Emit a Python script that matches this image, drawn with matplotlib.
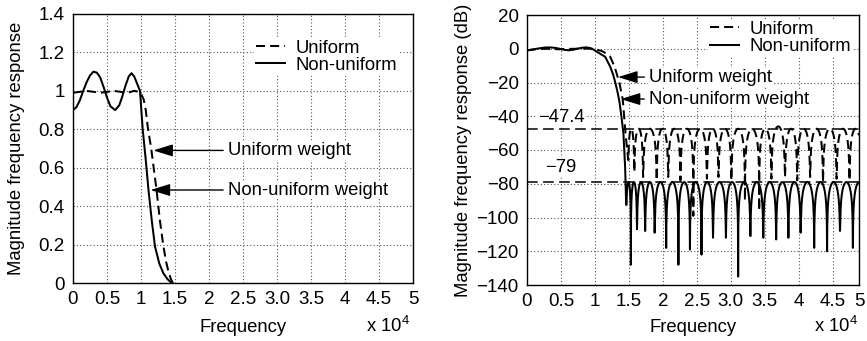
import numpy as np
import matplotlib
matplotlib.use("Agg")
import matplotlib.pyplot as plt

plt.rcParams["font.family"] = ["Liberation Sans", "DejaVu Sans"]
plt.rcParams["mathtext.fontset"] = "custom"
plt.rcParams["mathtext.rm"] = "Liberation Sans"
plt.rcParams["mathtext.it"] = "Liberation Sans:italic"
plt.rcParams["axes.unicode_minus"] = True

# ---------------- data ----------------
freq_ticks = [0, 0.5, 1, 1.5, 2, 2.5, 3.0, 3.5, 4, 4.5, 5]
freq_tick_labels = ["0", "0.5", "1", "1.5", "2", "2.5", "3.0", "3.5", "4", "4.5", "5"]

mag_ticks = [0, 0.2, 0.4, 0.6, 0.8, 1.0, 1.2, 1.4]
mag_tick_labels = ["0", "0.2", "0.4", "0.6", "0.8", "1", "1.2", "1.4"]

db_ticks = [20, 0, -20, -40, -60, -80, -100, -120, -140]

# linear magnitude, uniform weight
lin_uni_f = [0, 0.1, 0.2, 0.3, 0.4, 0.5, 0.6, 0.7, 0.8, 0.9, 0.97, 1.0, 1.04,
             1.07, 1.10, 1.15, 1.19, 1.23, 1.28, 1.33, 1.37, 1.41, 1.44, 1.47]
lin_uni_m = [0.99, 0.995, 1.0, 0.995, 0.99, 0.995, 1.0, 0.995, 0.99, 1.0, 0.995,
             0.985, 0.955, 0.90, 0.81, 0.70, 0.59, 0.48, 0.32, 0.19, 0.11, 0.05,
             0.02, 0.0]

# linear magnitude, non-uniform weight
lin_non_f = [0, 0.05, 0.1, 0.15, 0.2, 0.25, 0.3, 0.35, 0.4, 0.45, 0.5, 0.55,
             0.62, 0.68, 0.72, 0.77, 0.82, 0.86, 0.90, 0.94, 0.985, 1.025, 1.07,
             1.11, 1.16, 1.206, 1.27, 1.33, 1.39, 1.45]
lin_non_m = [0.90, 0.915, 0.95, 1.0, 1.045, 1.08, 1.10, 1.095, 1.07, 1.02, 0.965,
             0.92, 0.90, 0.925, 0.965, 1.025, 1.075, 1.092, 1.075, 1.04, 1.0,
             0.80, 0.64, 0.484, 0.32, 0.19, 0.10, 0.05, 0.02, 0.0]

# dB response: passband and transition band
db_uni_f = [0, 0.1, 0.2, 0.3, 0.45, 0.6, 0.75, 0.9, 1.0, 1.05, 1.1, 1.16, 1.225,
            1.29, 1.33, 1.36, 1.39, 1.41, 1.43, 1.455, 1.49]
db_uni_v = [-1.0, -0.4, -0.1, 0.0, -0.3, -0.1, 0.0, 0.1, -0.2, -0.8, -1.3, -2.6,
            -4.7, -10.6, -16.0, -20.0, -26.0, -30.0, -40.0, -52.0, -66.0]

db_non_f = [0, 0.08, 0.17, 0.26, 0.34, 0.42, 0.5, 0.56, 0.62, 0.68, 0.75, 0.81,
            0.87, 0.92, 0.96, 1.02, 1.08, 1.15, 1.225, 1.27, 1.30, 1.33, 1.36,
            1.39, 1.42, 1.445, 1.46]
db_non_v = [-0.9, -0.5, 0.2, 0.7, 0.8, 0.5, -0.2, -0.7, -0.9, -0.6, 0.1, 0.6,
            0.8, 0.5, 0.0, -1.6, -3.0, -4.7, -10.6, -15.5, -20.0, -25.0, -31.0,
            -40.0, -50.0, -70.0, -92.6]

# stopband: null frequencies, null depths and lobe peak levels
uni_null_f = [1.49, 1.58, 1.71, 1.91, 2.08, 2.26, 2.45, 2.65, 2.82, 3.01, 3.21,
              3.42, 3.60, 3.80, 3.98, 4.17, 4.36, 4.56, 4.75, 4.93]
uni_null_db = [-66, -73, -76, -78, -76, -78, -99, -77, -76, -78, -90, -96, -77,
               -76, -78, -76, -79, -77, -78, -75]
uni_peak_db = [-47.4, -47.4, -47.4, -47.4, -47.4, -47.4, -47.4, -47.4, -47.4,
               -47.4, -47.4, -47.4, -46.0, -47.4, -47.4, -47.4, -47.4, -47.4,
               -47.4]

non_null_f = [1.46, 1.53, 1.62, 1.74, 1.88, 2.05, 2.23, 2.40, 2.57, 2.74, 2.93,
              3.11, 3.29, 3.48, 3.67, 3.85, 4.03, 4.23, 4.42, 4.61, 4.80, 4.99]
non_null_db = [-92.6, -128, -107, -108, -109, -118, -128, -119, -122, -112, -112,
               -135, -111, -112, -113, -112, -109, -118, -120, -108, -118, -112]
non_peak_db = [-79] * 21

ripple_uni = -47.4
ripple_non = -79

x_max_db = 4.89


def stopband(null_f, null_db, peak_db, n=60):
    """Sidelobes between consecutive nulls, each an arch in dB."""
    fs, vs = [], []
    for a, b, da, dbb, p in zip(null_f[:-1], null_f[1:], null_db[:-1],
                                null_db[1:], peak_db):
        t = np.linspace(0, 1, n)
        v = p + 20 * np.log10(np.maximum(np.sin(np.pi * t), 1e-12))
        v = np.maximum(v, np.where(t < 0.5, da, dbb))
        fs.extend(a + (b - a) * t)
        vs.extend(v)
    return fs, vs


uni_sb_f, uni_sb_v = stopband(uni_null_f, uni_null_db, uni_peak_db)
non_sb_f, non_sb_v = stopband(non_null_f, non_null_db, non_peak_db)

# ---------------- figure ----------------
fig = plt.figure(figsize=(8.67, 3.41), dpi=100)
W, H = 867, 341
axL = fig.add_axes([73 / W, (H - 283) / H, 340 / W, 269 / H])
axR = fig.add_axes([527 / W, (H - 285) / H, 332 / W, 270 / H])

TICK_FS = 13.5
LABEL_FS = 13.3
TEXT_FS = 13.3
LW = 1.45
dash = (0, (4.5, 2.5))
grid_kw = dict(color="#555555", linestyle=(0, (1, 2)), linewidth=0.8)


def style(ax):
    ax.set_axisbelow(True)
    ax.grid(True, **grid_kw)
    ax.tick_params(length=0, labelsize=TICK_FS, pad=6)
    for s in ax.spines.values():
        s.set_linewidth(1.0)
        s.set_color("black")


# ---- left: linear magnitude ----
axL.plot(lin_uni_f, lin_uni_m, color="black", lw=LW, linestyle=dash, label="Uniform")
axL.plot(lin_non_f, lin_non_m, color="black", lw=LW, label="Non-uniform")
axL.set_xlim(0, 5)
axL.set_ylim(0, 1.4)
axL.set_xticks(freq_ticks)
axL.set_xticklabels(freq_tick_labels)
axL.set_yticks(mag_ticks)
axL.set_yticklabels(mag_tick_labels)
style(axL)
axL.set_ylabel("Magnitude frequency response", fontsize=LABEL_FS)
axL.yaxis.set_label_coords(-0.141, 0.5)
axL.set_xlabel("Frequency", fontsize=LABEL_FS, va="center")
axL.xaxis.set_label_coords(0.5, -0.167)
axL.text(0.991, -0.16, r"x 10$^{4}$", transform=axL.transAxes, ha="right",
         va="center", fontsize=LABEL_FS)

legL = axL.legend(loc="upper left", bbox_to_anchor=(0.532, 0.912), fontsize=TEXT_FS,
                  frameon=True, facecolor="white", edgecolor="none", framealpha=1,
                  borderpad=0.1, handlelength=1.6, handletextpad=0.55,
                  labelspacing=0.02, borderaxespad=0)
legL.get_frame().set_boxstyle("square", pad=0)

arrow_kw = dict(arrowstyle="-|>,head_length=0.9,head_width=0.28", color="black",
                lw=1.0, shrinkA=3, shrinkB=0)
box_kw = dict(fc="white", ec="none", pad=0.5)
axL.annotate("Uniform weight", xy=(1.18, 0.69), xytext=(2.28, 0.69),
             fontsize=TEXT_FS, va="center", ha="left", bbox=box_kw,
             arrowprops=arrow_kw)
axL.annotate("Non-uniform weight", xy=(1.14, 0.484), xytext=(2.28, 0.484),
             fontsize=TEXT_FS, va="center", ha="left", bbox=box_kw,
             arrowprops=arrow_kw)

# ---- right: dB magnitude ----
ref_dash = (0, (7, 3.5))
axR.axhline(ripple_uni, color="black", lw=1.1, linestyle=ref_dash, zorder=1.5)
axR.axhline(ripple_non, color="black", lw=1.1, linestyle=ref_dash, zorder=1.5)
axR.plot(db_uni_f + uni_sb_f, db_uni_v + uni_sb_v, color="black", lw=LW,
         linestyle=dash, label="Uniform")
axR.plot(db_non_f + non_sb_f, db_non_v + non_sb_v, color="black", lw=LW,
         label="Non-uniform")
axR.set_xlim(0, x_max_db)
axR.set_ylim(-140, 20)
axR.set_xticks(freq_ticks[:-1] + [x_max_db])
axR.set_xticklabels(freq_tick_labels)
axR.set_yticks(db_ticks)
axR.set_yticklabels([("\u2212" + str(-t)) if t < 0 else str(t) for t in db_ticks])
style(axR)
axR.set_ylabel("Magnitude frequency response (dB)", fontsize=LABEL_FS)
axR.yaxis.set_label_coords(-0.165, 0.5)
axR.set_xlabel("Frequency", fontsize=LABEL_FS, va="center")
axR.xaxis.set_label_coords(0.5, -0.159)
axR.text(0.997, -0.152, r"x 10$^{4}$", transform=axR.transAxes, ha="right",
         va="center", fontsize=LABEL_FS)

axR.text(0.5, ripple_uni + 6.5, "\u221247.4", ha="center", va="center",
         fontsize=TEXT_FS, bbox=box_kw)
axR.text(0.5, ripple_non + 8.5, "\u221279", ha="center", va="center",
         fontsize=TEXT_FS, bbox=box_kw)

legR = axR.legend(loc="upper left", bbox_to_anchor=(0.545, 0.985), fontsize=TEXT_FS,
                  frameon=True, facecolor="white", edgecolor="none", framealpha=1,
                  borderpad=0.1, handlelength=1.6, handletextpad=0.55,
                  labelspacing=0.02, borderaxespad=0)
legR.get_frame().set_boxstyle("square", pad=0)

axR.annotate("Uniform weight", xy=(1.34, -16.8), xytext=(1.80, -16.8),
             fontsize=TEXT_FS, va="center", ha="left", bbox=box_kw,
             arrowprops=arrow_kw)
axR.annotate("Non-uniform weight", xy=(1.38, -29.8), xytext=(1.80, -29.8),
             fontsize=TEXT_FS, va="center", ha="left", bbox=box_kw,
             arrowprops=arrow_kw)

fig.savefig("out.png", dpi=100)
